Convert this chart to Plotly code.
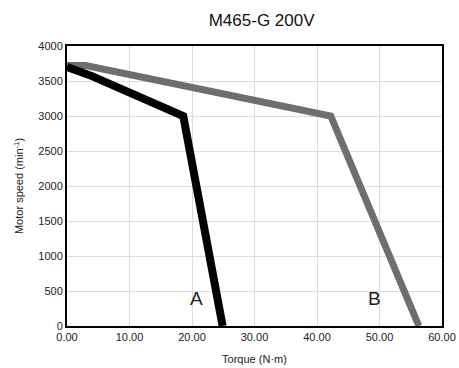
import plotly.graph_objects as go

title = "M465-G 200V"
a_torque = [0.0, 4.0, 18.6, 24.9]
a_speed = [3700, 3570, 3000, 0]
b_torque = [0.0, 3.0, 42.2, 56.3]
b_speed = [3720, 3720, 3000, 0]
labels = ["A", "B"]
label_x = [20.7, 49.2]
label_y = [390, 390]
x_ticks = [0, 10, 20, 30, 40, 50, 60]
y_ticks = [0, 500, 1000, 1500, 2000, 2500, 3000, 3500, 4000]

fig = go.Figure()
fig.add_trace(go.Scatter(x=b_torque, y=b_speed, mode="lines",
                         line=dict(color="#6e6e6e", width=7), cliponaxis=True))
fig.add_trace(go.Scatter(x=a_torque, y=a_speed, mode="lines",
                         line=dict(color="#000000", width=8), cliponaxis=True))
for t, x, y in zip(labels, label_x, label_y):
    fig.add_annotation(x=x, y=y, text=t, showarrow=False,
                       font=dict(size=19, color="#222222"))

fig.update_layout(
    width=459, height=368,
    margin=dict(l=67, r=17, t=46, b=42, autoexpand=False),
    paper_bgcolor="white", plot_bgcolor="white",
    showlegend=False,
    font=dict(family="Liberation Sans, Arial, sans-serif", color="#222222"),
    title=dict(text=title, x=0.57, xanchor="center", y=0.945, yanchor="middle",
               font=dict(size=17, color="#111111")),
)
fig.update_xaxes(range=[0, 60], tickvals=x_ticks,
                 ticktext=[f"{v:.2f}" for v in x_ticks],
                 showgrid=True, gridcolor="#dcdcdc", gridwidth=1,
                 showline=True, linecolor="black", linewidth=2, mirror=True,
                 ticks="", tickfont=dict(size=11), zeroline=False, automargin=False,
                 title=dict(text="Torque (N·m)", font=dict(size=11), standoff=13))
fig.update_yaxes(range=[0, 4000], tickvals=y_ticks,
                 showgrid=True, gridcolor="#dcdcdc", gridwidth=1,
                 showline=True, linecolor="black", linewidth=2, mirror=True,
                 ticks="", tickfont=dict(size=11), zeroline=False, automargin=False,
                 title=dict(text="Motor speed (min<sup>-1</sup>)", font=dict(size=11), standoff=12))

fig.write_html("out.html", config={"displayModeBar": False},
               post_script="document.body.style.margin='0';document.body.style.padding='0';")
